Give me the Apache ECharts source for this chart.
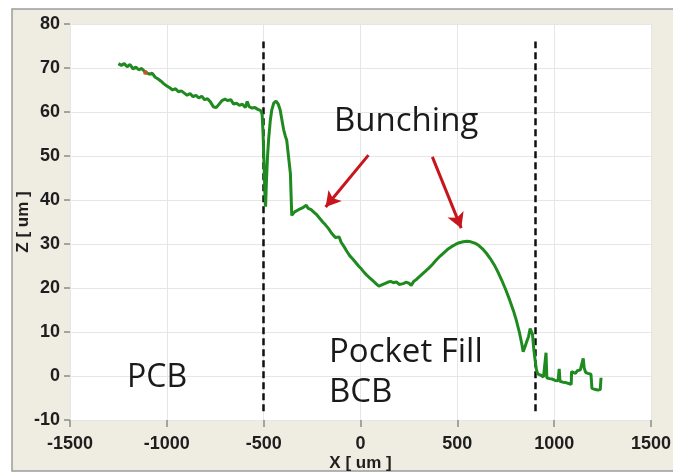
<!DOCTYPE html>
<html>
<head>
<meta charset="utf-8">
<script src="https://cdn.jsdelivr.net/npm/echarts@6/dist/echarts.min.js"></script>
<style>html,body{margin:0;padding:0;background:#fff}#c{width:673px;height:475px}</style>
</head>
<body>
<div id="c"></div>
<script>
// Profile data: X [um] and Z [um]
const profileX = [
-1250,-1235,-1220,-1205,-1190,-1175,-1160,-1145,-1130,-1110,-1090,-1075,-1060,-1045,-1030,-1015,-1000,-985,-970,-955,
-940,-925,-910,-895,-880,-865,-850,-835,-820,-805,-790,-775,-760,-745,-730,-715,-700,-685,-670,-655,
-640,-625,-610,-595,-585,-575,-560,-545,-530,-515,-508,-503,-498,-494,-490,-486,-480,-474,-466,-458,
-448,-436,-425,-415,-405,-397,-388,-381,-372,-362,-355,-340,-320,-300,-290,-280,-270,-255,-240,-225,
-210,-195,-180,-165,-150,-140,-130,-120,-110,-100,-85,-70,-55,-40,-25,-10,5,20,35,50,
65,80,95,110,125,140,155,170,185,200,210,220,235,250,262,275,290,310,330,350,
370,390,410,430,450,470,490,510,530,550,570,590,610,630,650,670,690,710,730,750,
770,790,805,820,832,840,848,858,868,876,882,888,895,902,908,915,930,945,955,958,
962,975,990,1005,1020,1026,1030,1045,1060,1075,1088,1090,1098,1110,1120,1135,1145,1150,1155,1163,
1175,1190,1195,1210,1225,1238,1242
];
const profileZ = [
71.0,70.6,71.0,70.3,70.8,69.8,70.2,69.6,69.9,69.0,68.6,68.8,67.9,67.5,67.0,66.4,65.9,65.5,65.0,65.3,
64.6,64.8,64.3,63.8,64.2,63.5,63.8,63.2,63.6,62.8,63.0,62.3,61.2,61.0,61.8,62.6,62.9,62.6,62.8,61.8,
62.0,61.5,61.8,61.0,62.4,61.2,60.9,61.0,60.6,60.3,59.5,55.0,48.0,42.0,38.5,44.0,50.0,54.0,58.0,60.5,
62.0,62.5,61.8,60.5,58.0,56.0,54.5,53.6,50.0,46.0,36.5,37.3,37.8,38.2,38.0,38.8,38.1,37.8,37.2,36.6,
35.8,35.0,34.3,33.5,32.5,32.0,31.5,31.3,31.6,30.4,29.4,28.3,27.3,26.6,25.8,25.0,24.3,23.5,22.8,22.2,
21.6,21.0,20.4,20.7,21.0,21.3,21.5,21.2,21.4,20.8,20.5,21.0,21.3,21.1,20.6,21.5,22.0,22.8,23.6,24.4,
25.3,26.3,27.2,28.0,28.8,29.4,29.9,30.3,30.5,30.6,30.5,30.2,29.7,28.9,27.9,26.7,25.3,23.6,21.7,19.6,
17.3,14.8,12.6,10.0,7.5,5.5,6.5,7.8,9.0,10.8,11.2,9.5,6.0,3.5,1.5,0.5,0.2,-0.2,-0.3,5.3,
-0.4,-0.6,-0.7,-1.0,-1.1,1.6,-1.2,-1.4,-1.5,-1.7,-1.9,1.0,0.8,0.6,1.2,1.4,1.6,4.0,1.8,0.8,
0.6,0.4,-2.8,-3.0,-3.2,-3.1,-0.4
];
// Small red marker on the PCB surface
const markerX = [-1110];
const markerZ = [69];
// Region boundaries (dashed lines)
const boundaryX = [-500, 900];
const boundaryZ = [-8, 76];
// Arrows: start and end points
const arrowFromX = [41, 371];
const arrowFromZ = [50.2, 49.8];
const arrowToX = [-180, 520];
const arrowToZ = [38.4, 33.6];
// Axis ticks
const xTicks = [-1500, -1000, -500, 0, 500, 1000, 1500];
const yTicks = [-10, 0, 10, 20, 30, 40, 50, 60, 70, 80];

const lineData = profileX.map((x, i) => [x, profileZ[i]]);
const markerData = markerX.map((x, i) => [x, markerZ[i]]);
const boundaryLines = boundaryX.map(x => [{coord: [x, boundaryZ[0]]}, {coord: [x, boundaryZ[1]]}]);
const arrowLines = arrowFromX.map((x, i) => [{coord: [x, arrowFromZ[i]]}, {coord: [arrowToX[i], arrowToZ[i]]}]);

const chart = echarts.init(document.getElementById('c'), null, {renderer: 'canvas'});
const labelFont = {fontFamily: 'Liberation Sans, Arial, sans-serif', fontWeight: 'bold', fontSize: 18, color: '#1e1e1e'};
const annFont = 'Open Sans, Noto Sans, sans-serif';
chart.setOption({
  animation: false,
  backgroundColor: '#ffffff',
  graphic: [
    {type: 'rect', z: -100, shape: {x: 12, y: 9, width: 670, height: 462},
     style: {fill: '#efece1', stroke: '#9c9c9c', lineWidth: 1.5}},
    {type: 'text', z: 100, left: 334, top: 105, style: {text: 'Bunching', font: '33px ' + annFont, fill: '#1a1a1a'}},
    {type: 'text', z: 100, left: 329, top: 336, style: {text: 'Pocket Fill', font: '33px ' + annFont, fill: '#1a1a1a'}},
    {type: 'text', z: 100, left: 329, top: 376, style: {text: 'BCB', font: '33px ' + annFont, fill: '#1a1a1a'}},
    {type: 'text', z: 100, left: 127, top: 362, style: {text: 'PCB', font: '32px ' + annFont, fill: '#1a1a1a'}}
  ],
  grid: {left: 70, right: 22, top: 24, bottom: 55, show: true, backgroundColor: '#ffffff', borderWidth: 0,
         containLabel: false, outerBoundsMode: 'none'},
  xAxis: {
    type: 'value', min: xTicks[0], max: xTicks[xTicks.length - 1], interval: 500,
    name: 'X [ um ]', nameLocation: 'middle', nameGap: 35, nameMoveOverlap: false,
    nameTextStyle: Object.assign({}, labelFont, {fontSize: 17}),
    axisLine: {show: false, onZero: false},
    axisTick: {show: true, length: 7, lineStyle: {color: '#8a8a8a', width: 1.5}},
    axisLabel: Object.assign({margin: 15, formatter: v => String(v)}, labelFont),
    splitLine: {show: true, lineStyle: {color: '#e6e6e6', width: 1}}
  },
  yAxis: {
    type: 'value', min: yTicks[0], max: yTicks[yTicks.length - 1], interval: 10,
    name: 'Z [ um ]', nameLocation: 'middle', nameGap: 38, nameRotate: 90, nameMoveOverlap: false,
    nameTextStyle: Object.assign({}, labelFont, {fontSize: 17}),
    axisLine: {show: false, onZero: false},
    axisTick: {show: true, length: 6, lineStyle: {color: '#8a8a8a', width: 1.5}},
    axisLabel: Object.assign({margin: 10, formatter: v => String(v)}, labelFont),
    splitLine: {show: true, lineStyle: {color: '#e6e6e6', width: 1}}
  },
  series: [
    {
      type: 'line', data: lineData, showSymbol: false, symbol: 'none',
      lineStyle: {color: '#1f8a1f', width: 3}, z: 5,
      markLine: {
        silent: true, symbol: ['none', 'none'], label: {show: false},
        lineStyle: {color: '#111', type: [7, 4], width: 2.5},
        data: boundaryLines
      }
    },
    {
      type: 'scatter', data: markerData, symbolSize: 5,
      itemStyle: {color: '#d2502a'}, z: 6
    },
    {
      type: 'line', data: [],
      markLine: {
        silent: true, symbol: ['none', 'arrow'], symbolSize: [13, 15], label: {show: false},
        lineStyle: {color: '#c8141c', type: 'solid', width: 3},
        data: arrowLines
      }
    }
  ]
});
</script>
</body>
</html>
